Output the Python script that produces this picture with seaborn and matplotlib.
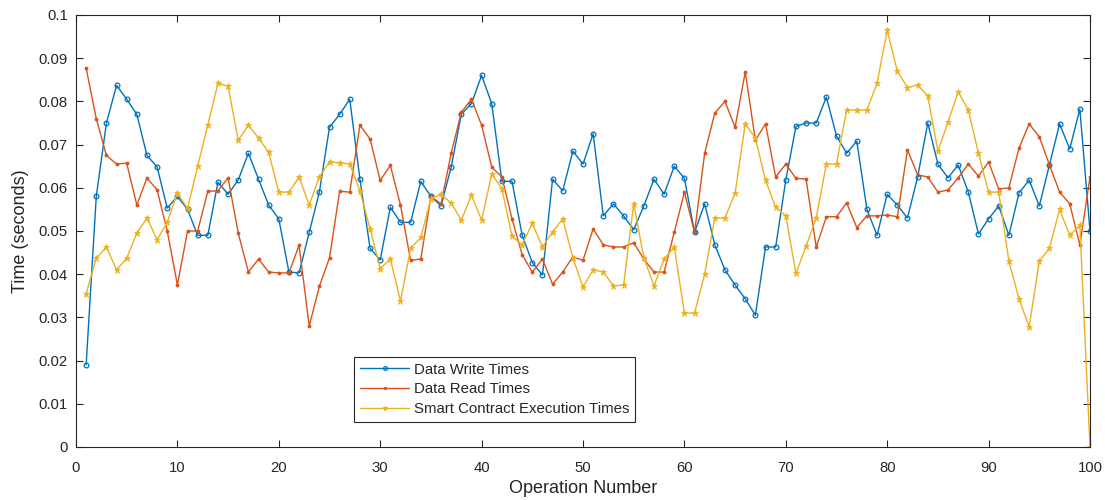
import numpy as np
import pandas as pd
import matplotlib
matplotlib.use("Agg")
import matplotlib.pyplot as plt
import seaborn as sns

operations = list(range(1, 101))

write_times = [
    0.019, 0.058, 0.075, 0.0837, 0.0805, 0.077, 0.0675, 0.0648, 0.0553, 0.058,
    0.055, 0.049, 0.049, 0.0613, 0.0585, 0.0618, 0.068, 0.062, 0.056, 0.0528,
    0.0405, 0.0403, 0.0497, 0.059, 0.074, 0.077, 0.0805, 0.062, 0.046, 0.0433,
    0.0555, 0.052, 0.052, 0.0615, 0.058, 0.0558, 0.0648, 0.077, 0.0795, 0.086,
    0.0795, 0.0615, 0.0615, 0.049, 0.0427, 0.0398, 0.062, 0.0593, 0.0685, 0.0655,
    0.0725, 0.0535, 0.0563, 0.0535, 0.0503, 0.0558, 0.062, 0.0585, 0.065, 0.0622,
    0.0497, 0.0563, 0.0468, 0.041, 0.0375, 0.0343, 0.0305, 0.0463, 0.0463, 0.0618,
    0.0742, 0.075, 0.075, 0.081, 0.072, 0.068, 0.0708, 0.055, 0.049, 0.0585,
    0.056, 0.053, 0.0625, 0.075, 0.0655, 0.0623, 0.0653, 0.059, 0.0493, 0.0528,
    0.0558, 0.049, 0.0588, 0.0618, 0.0558, 0.0653, 0.0748, 0.069, 0.0782, 0.050,
]

read_times = [
    0.0877, 0.076, 0.0675, 0.0655, 0.0657, 0.056, 0.0623, 0.0595, 0.050, 0.0375,
    0.050, 0.050, 0.0592, 0.0593, 0.0623, 0.0495, 0.0405, 0.0435, 0.0405, 0.0403,
    0.0403, 0.0467, 0.028, 0.0372, 0.0438, 0.0592, 0.059, 0.0745, 0.0713, 0.0617,
    0.0652, 0.056, 0.0432, 0.0435, 0.058, 0.0563, 0.068, 0.0775, 0.0805, 0.0745,
    0.0648, 0.0625, 0.0528, 0.0445, 0.0405, 0.0435, 0.0377, 0.0405, 0.044, 0.0432,
    0.0505, 0.0468, 0.0463, 0.0463, 0.0473, 0.0435, 0.0405, 0.0405, 0.0497, 0.059,
    0.0497, 0.068, 0.0773, 0.080, 0.074, 0.0868, 0.071, 0.0748, 0.0625, 0.0655,
    0.0622, 0.062, 0.0463, 0.0533, 0.0533, 0.0565, 0.0508, 0.0535, 0.0535, 0.0537,
    0.0533, 0.0688, 0.063, 0.0625, 0.059, 0.0595, 0.0623, 0.0655, 0.0627, 0.066,
    0.0597, 0.060, 0.0692, 0.0748, 0.0718, 0.0653, 0.059, 0.0563, 0.0468, 0.0625,
]

contract_times = [
    0.0355, 0.0437, 0.0463, 0.041, 0.0437, 0.0495, 0.053, 0.048, 0.052, 0.0588,
    0.0552, 0.065, 0.0745, 0.0842, 0.0835, 0.071, 0.0745, 0.0715, 0.0682, 0.059,
    0.059, 0.0625, 0.056, 0.0625, 0.066, 0.0658, 0.0655, 0.0593, 0.0505, 0.0413,
    0.0435, 0.0338, 0.046, 0.0485, 0.0575, 0.0585, 0.0565, 0.0525, 0.0583, 0.0525,
    0.0632, 0.0598, 0.0488, 0.0468, 0.0518, 0.0463, 0.0498, 0.0528, 0.0438, 0.037,
    0.041, 0.0405, 0.0373, 0.0375, 0.0563, 0.0438, 0.0373, 0.0435, 0.0463, 0.031,
    0.031, 0.040, 0.053, 0.053, 0.0588, 0.0748, 0.0715, 0.0617, 0.0555, 0.0535,
    0.0402, 0.0465, 0.053, 0.0655, 0.0655, 0.078, 0.078, 0.078, 0.0842, 0.0965,
    0.087, 0.0832, 0.0838, 0.0813, 0.0685, 0.0752, 0.0822, 0.078, 0.068, 0.059,
    0.059, 0.043, 0.0343, 0.0278, 0.043, 0.046, 0.055, 0.049, 0.0513, 0.0,
]

series_names = ["Data Write Times", "Data Read Times", "Smart Contract Execution Times"]
x_ticks = list(range(0, 101, 10))
y_ticks = [round(v * 0.01, 2) for v in range(0, 11)]
y_tick_labels = ["0", "0.01", "0.02", "0.03", "0.04", "0.05", "0.06", "0.07", "0.08", "0.09", "0.1"]

sns.set_style("ticks")
plt.rcParams["font.family"] = ["Liberation Sans", "DejaVu Sans"]

fig = plt.figure(figsize=(11.05, 5.0), dpi=100)
ax = fig.add_axes([76 / 1105, 1 - 447 / 500, 1014 / 1105, 432 / 500])

blue = "#0072BD"
red = "#D95319"
yellow = "#EDB120"

sns.lineplot(x=operations, y=write_times, ax=ax, color=blue, linewidth=1.0,
             marker="o", markersize=3.4, markerfacecolor="none",
             markeredgecolor=blue, markeredgewidth=0.9, label=series_names[0])
sns.lineplot(x=operations, y=read_times, ax=ax, color=red, linewidth=1.0,
             marker=".", markersize=4, markeredgecolor=red, label=series_names[1])
sns.lineplot(x=operations, y=contract_times, ax=ax, color=yellow, linewidth=1.0,
             marker="*", markersize=4.5, markeredgecolor=yellow, markeredgewidth=0.6,
             label=series_names[2])

ax.set_xlim(0, 100)
ax.set_ylim(0, 0.1)
ax.set_xticks(x_ticks)
ax.set_yticks(y_ticks)
ax.set_yticklabels(y_tick_labels)
ax.tick_params(direction="in", top=True, right=True, length=5, width=0.8,
               labelsize=10.7, colors="#262626")
ax.tick_params(axis="x", pad=10)
ax.tick_params(axis="y", pad=6)
for s in ax.spines.values():
    s.set_visible(True)
    s.set_linewidth(0.8)
    s.set_color("#262626")
ax.set_xlabel("Operation Number", fontsize=13, color="#262626", labelpad=4)
ax.set_ylabel("Time (seconds)", fontsize=13, color="#262626", labelpad=7)

leg = ax.legend(loc="lower left", bbox_to_anchor=(0.274, 0.058), borderaxespad=0,
                fontsize=10.8, frameon=True, fancybox=False, edgecolor="#262626",
                framealpha=1, handlelength=3.3, handletextpad=0.3,
                borderpad=0.4, labelspacing=0.38, markerscale=0.8)
leg.get_frame().set_linewidth(0.8)

fig.savefig("out.png", dpi=100)
